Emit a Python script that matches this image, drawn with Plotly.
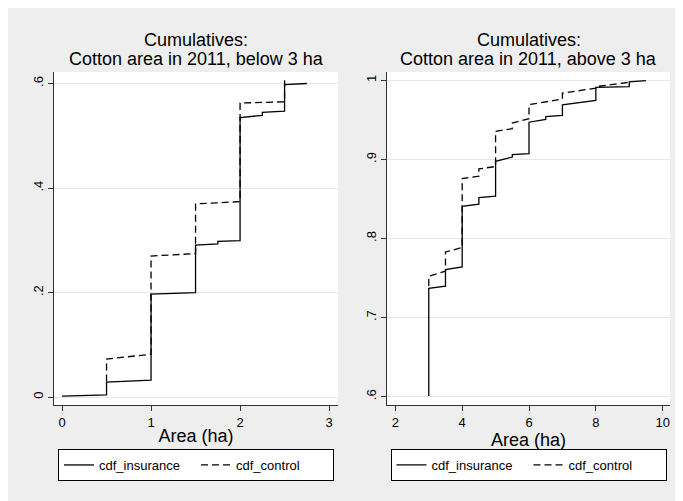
import plotly.graph_objects as go

# ---------------- data ----------------
# Left panel: below 3 ha
left_ins_x = [0, 0.5, 0.5, 1.0, 1.0, 1.5, 1.5, 1.75, 1.75, 2.0, 2.0, 2.25, 2.25, 2.5, 2.5, 2.75]
left_ins_y = [0.002, 0.0045, 0.029, 0.0325, 0.197, 0.2, 0.291, 0.293, 0.298, 0.2995,
              0.535, 0.539, 0.5446, 0.547, 0.598, 0.6]
left_ctl_x = [0.5, 0.5, 1.0, 1.0, 1.5, 1.5, 2.0, 2.0, 2.5, 2.5]
left_ctl_y = [0.03, 0.073, 0.082, 0.27, 0.2746, 0.3697, 0.374, 0.5626, 0.565, 0.606]

# Right panel: above 3 ha
right_ins_x = [3, 3, 3.5, 3.5, 4, 4, 4.5, 4.5, 5, 5, 5.5, 5.5, 6, 6, 6.5, 6.5, 7, 7, 8, 8, 9, 9, 9.5]
right_ins_y = [0.601, 0.7369, 0.7398, 0.7608, 0.7641, 0.8408, 0.8433, 0.8518, 0.8534, 0.8976,
               0.903, 0.906, 0.9073, 0.947, 0.9505, 0.954, 0.9557, 0.969, 0.9745, 0.991,
               0.992, 0.998, 0.9995]
right_ctl_x = [3, 3, 3.5, 3.5, 4, 4, 4.5, 4.5, 5, 5, 5.5, 5.5, 6, 6, 7, 7, 8, 8, 9, 9]
right_ctl_y = [0.74, 0.7524, 0.7587, 0.783, 0.7886, 0.8757, 0.8787, 0.888, 0.891, 0.9355,
               0.9388, 0.946, 0.9515, 0.9692, 0.9763, 0.9838, 0.990, 0.992, 0.9975, 1.0]

left_xticks = [0, 1, 2, 3]
left_yticks = [0, 0.2, 0.4, 0.6]
left_yticktext = ["0", ".2", ".4", ".6"]
right_xticks = [2, 4, 6, 8, 10]
right_yticks = [0.6, 0.7, 0.8, 0.9, 1.0]
right_yticktext = [".6", ".7", ".8", ".9", "1"]

title_line1 = "Cumulatives:"
title_line2 = ["Cotton area in 2011, below 3 ha", "Cotton area in 2011, above 3 ha"]
xtitle = "Area (ha)"
series_names = ["cdf_insurance", "cdf_control"]

# ---------------- layout constants ----------------
W, H = 683, 501
BG = "#eeeeee"
FONT = "Liberation Sans, Arial, sans-serif"
DASH = "7px,4px"
LW = 1.3

def px_x(p):
    return p / W

def px_y(p):
    return 1 - p / H

fig = go.Figure()

fig.add_trace(go.Scatter(x=left_ins_x, y=left_ins_y, mode="lines", name=series_names[0],
                         line=dict(color="black", width=LW), xaxis="x", yaxis="y", legend="legend"))
fig.add_trace(go.Scatter(x=left_ctl_x, y=left_ctl_y, mode="lines", name=series_names[1],
                         line=dict(color="black", width=LW, dash=DASH), xaxis="x", yaxis="y", legend="legend"))
fig.add_trace(go.Scatter(x=right_ins_x, y=right_ins_y, mode="lines", name=series_names[0],
                         line=dict(color="black", width=LW), xaxis="x2", yaxis="y2", legend="legend2"))
fig.add_trace(go.Scatter(x=right_ctl_x, y=right_ctl_y, mode="lines", name=series_names[1],
                         line=dict(color="black", width=LW, dash=DASH), xaxis="x2", yaxis="y2", legend="legend2"))

axis_common = dict(showline=True, linecolor="#333333", linewidth=1, ticks="outside", ticklen=5,
                   tickcolor="#333333", tickfont=dict(size=13, color="black", family=FONT),
                   zeroline=False, mirror=False)

ydom = [px_y(397), px_y(64)]
xdom1 = [px_x(46), px_x(330)]
xdom2 = [px_x(379), px_x(662)]

legend_common = dict(orientation="h", xanchor="center", yanchor="middle", y=px_y(457),
                     bgcolor="white", bordercolor="black", borderwidth=1,
                     font=dict(size=13, color="black", family=FONT), entrywidth=92,
                     traceorder="normal")

fig.update_layout(
    width=W, height=H,
    margin=dict(l=0, r=0, t=0, b=0),
    paper_bgcolor=BG, plot_bgcolor="white",
    font=dict(family=FONT, color="black"),
    xaxis=dict(domain=xdom1, range=[-0.09, 3.10], tickvals=left_xticks, showgrid=False,
               title=dict(text=xtitle, font=dict(size=18), standoff=0), anchor="y", **axis_common),
    yaxis=dict(domain=ydom, range=[-0.015, 0.622], tickvals=left_yticks, ticktext=left_yticktext,
               tickangle=-90, showgrid=True, gridcolor="#e6e6e6", gridwidth=1, anchor="x", **axis_common),
    xaxis2=dict(domain=xdom2, range=[1.75, 10.22], tickvals=right_xticks, showgrid=False,
                title=dict(text=xtitle, font=dict(size=18), standoff=0), anchor="y2", **axis_common),
    yaxis2=dict(domain=ydom, range=[0.5895, 1.0105], tickvals=right_yticks, ticktext=right_yticktext,
                tickangle=-90, showgrid=True, gridcolor="#e6e6e6", gridwidth=1, anchor="x2", **axis_common),
    legend=dict(x=(xdom1[0] + xdom1[1]) / 2, **legend_common),
    legend2=dict(x=(xdom2[0] + xdom2[1]) / 2, **legend_common),
    showlegend=True,
)

for dom, t2 in zip([xdom1, xdom2], title_line2):
    cx = (dom[0] + dom[1]) / 2
    fig.add_annotation(text=title_line1, x=cx, y=px_y(32), xref="paper", yref="paper",
                       xanchor="center", yanchor="middle", showarrow=False,
                       font=dict(size=18, color="black", family=FONT))
    fig.add_annotation(text=t2, x=cx, y=px_y(50.5), xref="paper", yref="paper",
                       xanchor="center", yanchor="middle", showarrow=False,
                       font=dict(size=18, color="black", family=FONT))

fig.write_html("out.html")
